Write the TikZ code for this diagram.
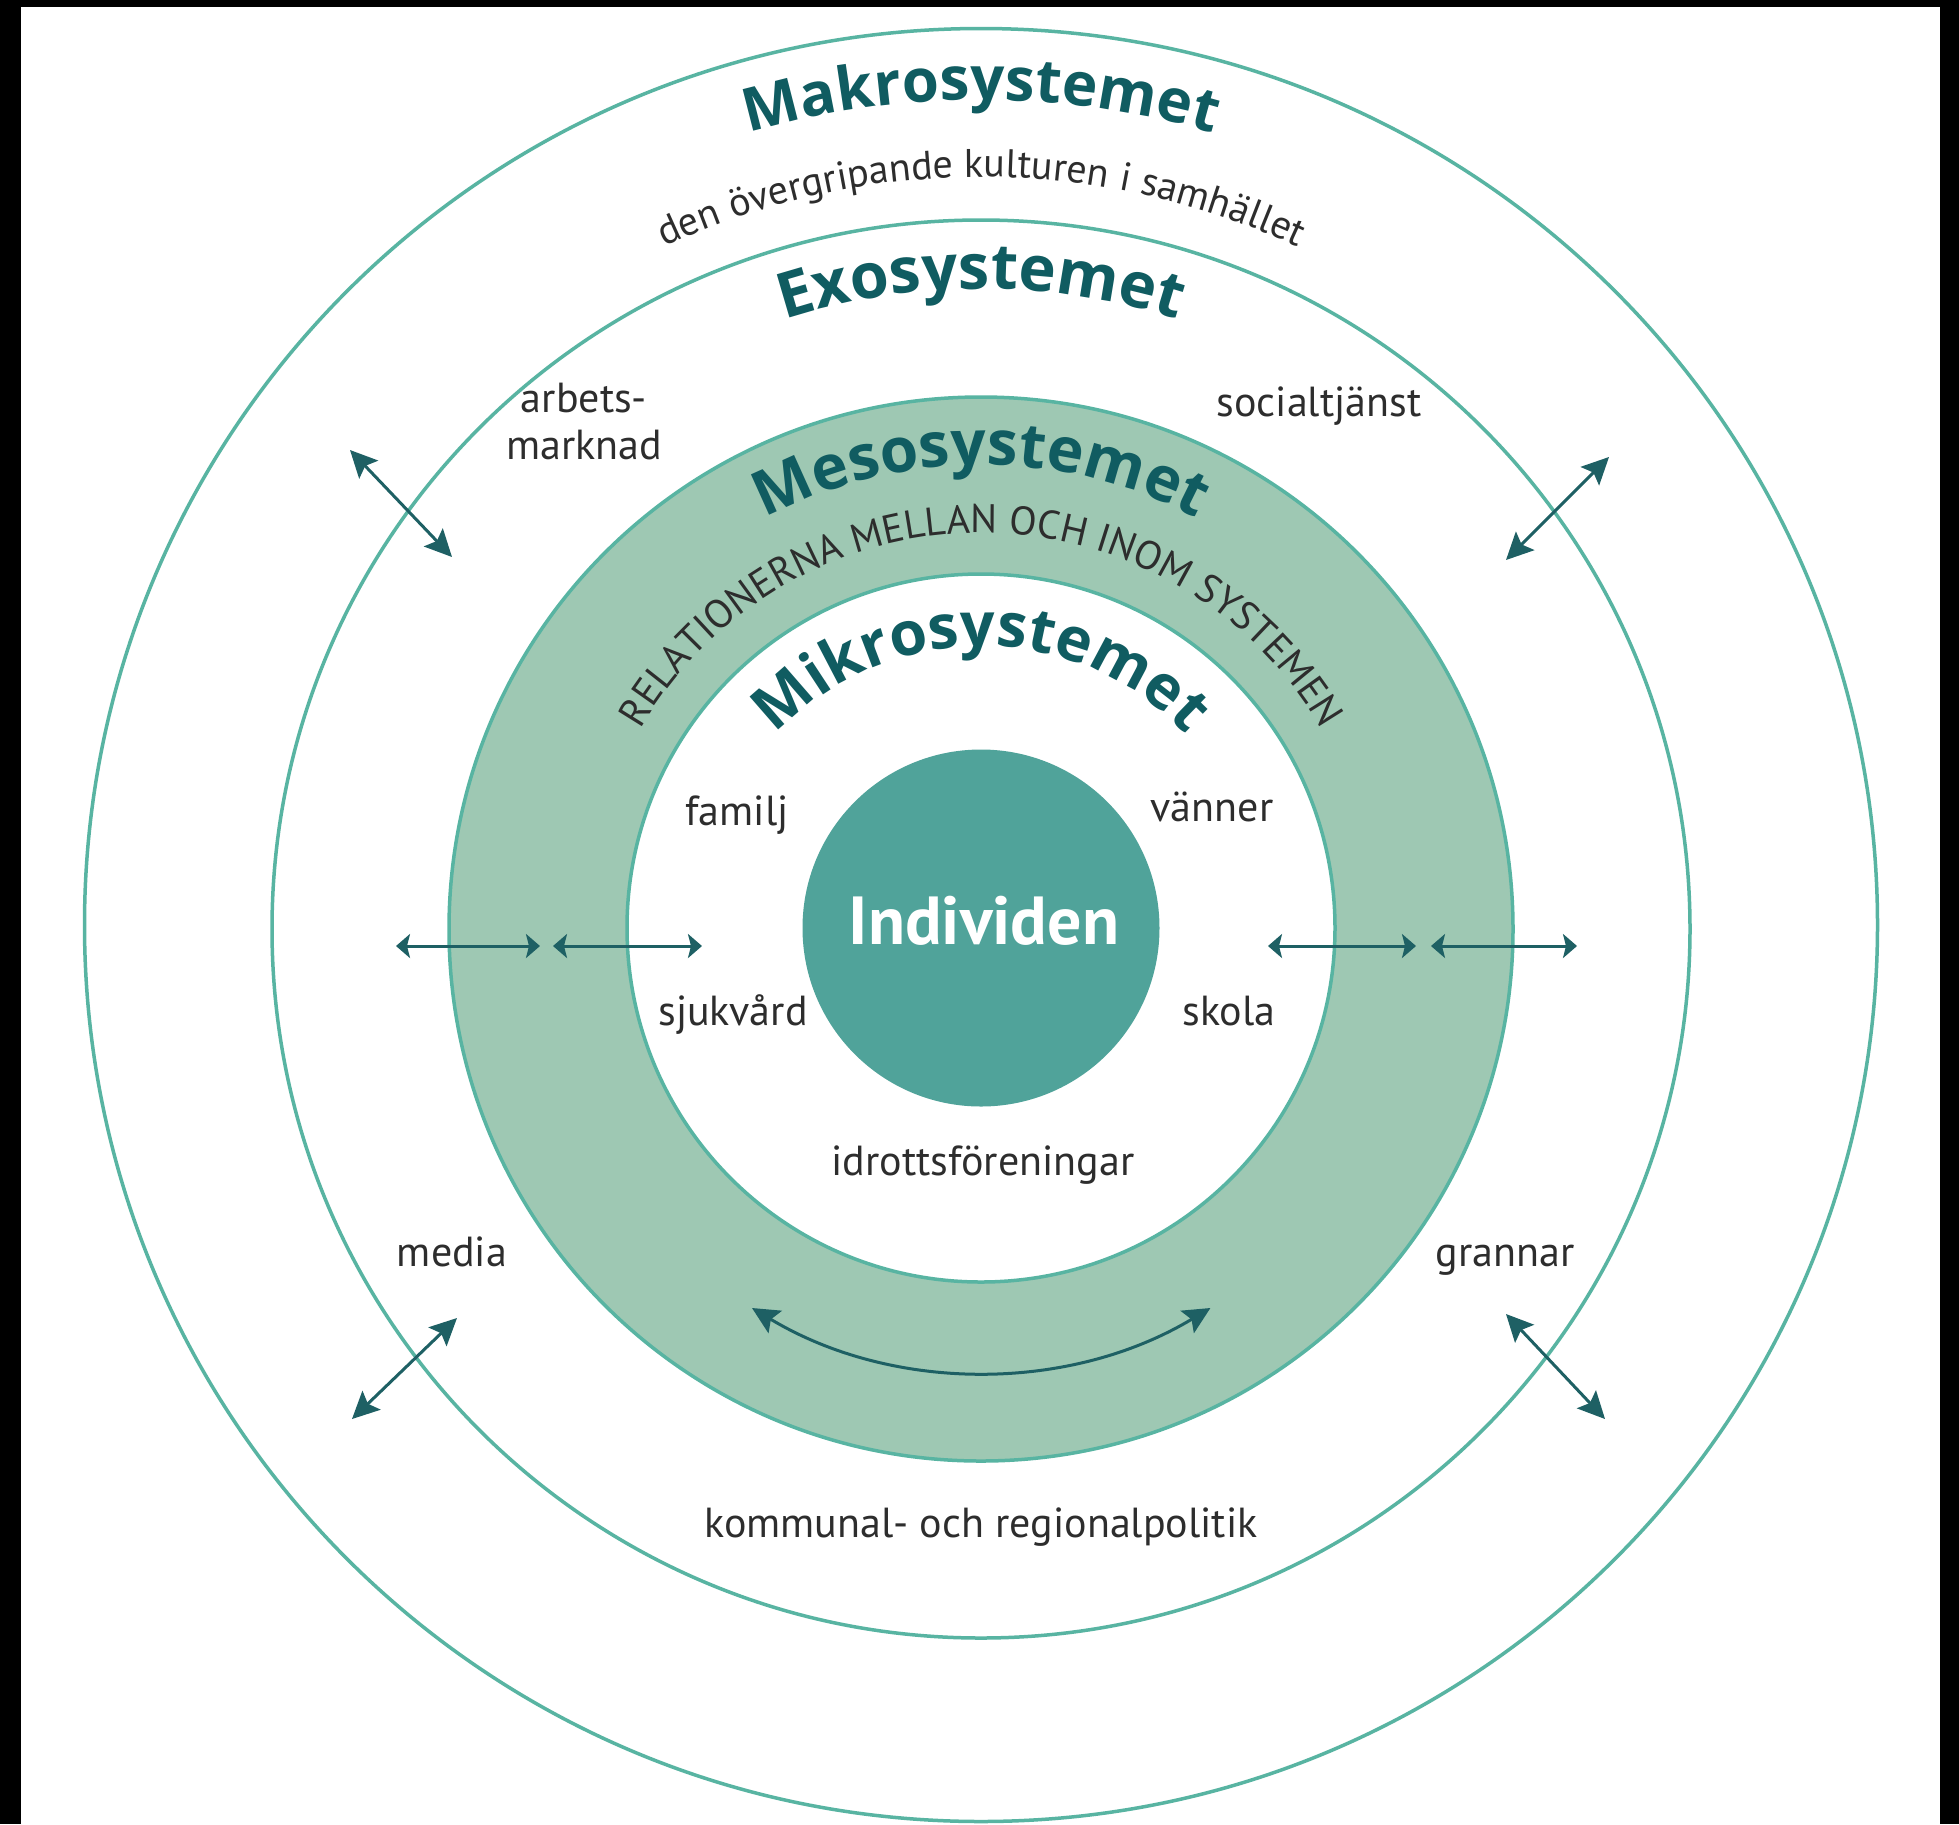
\documentclass[tikz,border=0pt]{standalone}
\usepackage{fontspec}
\setmainfont{PT Sans}
\newfontfamily\titlefont{Open Sans}
\usetikzlibrary{decorations.text,arrows.meta}
\definecolor{lineteal}{RGB}{88,180,162}
\definecolor{mesofill}{RGB}{158,200,179}
\definecolor{indfill}{RGB}{80,163,154}
\definecolor{titlecol}{RGB}{16,92,97}
\definecolor{arrowcol}{RGB}{30,96,100}
\definecolor{textgray}{RGB}{45,45,45}
\begin{document}
\begin{tikzpicture}[x=1pt,y=1pt,
  ring/.style={circle,draw=lineteal,line width=3.5pt,inner sep=0pt,outer sep=0pt},
  lbl/.style={font=\fontsize{42}{47}\selectfont,text=textgray,inner sep=0pt},
  dbl/.style={draw=arrowcol,line width=3pt,{Stealth[length=27pt,width=26pt,inset=5pt]}-{Stealth[length=27pt,width=26pt,inset=5pt]}},
  hdbl/.style={draw=arrowcol,line width=3pt,{Stealth[length=14pt,width=24pt,inset=3pt]}-{Stealth[length=14pt,width=24pt,inset=3pt]}},
  titletext/.style 2 args={decorate,decoration={text along path,text align=center,text color=titlecol,
     text={|\titlefont\bfseries\fontsize{#1}{70}\selectfont|#2}}},
  bodytext/.style={decorate,decoration={text along path,text align=center,text color=textgray,
     text={|\fontsize{40}{46}\selectfont|#1}}}
]
% frame
\fill[black] (0,0) rectangle (1959,-1824);
\fill[white] (21,-7) rectangle (1940,-1824);
\useasboundingbox (0,0) rectangle (1959,-1824);

% circles
\node (makro) [ring,minimum size=1793pt] at (981,-925) {};
\node (exo) [ring,minimum size=1418pt] at (981,-929) {};
\node (meso) [ring,fill=mesofill,minimum size=1064pt] at (981,-929) {};
\node (mikro) [ring,fill=white,minimum size=708pt] at (981,-928) {};
\node (ind) [circle,fill=indfill,minimum size=357pt,inner sep=0pt] at (981,-928) {};
\node (indtxt) [font=\bfseries\fontsize{68}{74}\selectfont,text=white,anchor=base,inner sep=0pt] at (984,-944) {Individen};

% curved titles
\path[titletext={60}{Makrosystemet}] (154,-927) arc[start angle=180,end angle=0,radius=827];
\path[bodytext=den övergripande kulturen i samhället] (231,-927) arc[start angle=180,end angle=0,radius=750];
\path[titletext={63}{Exosystemet}] (343,-927) arc[start angle=180,end angle=0,radius=638];
\path[titletext={62}{Mesosystemet}] (519,-927) arc[start angle=180,end angle=0,radius=462];
\path[decorate,decoration={text along path,text align=center,text color=textgray,
     text={|\fontsize{40}{46}\selectfont|RELATIONERNA MELLAN OCH INOM SYSTEMEN}}]
     (587,-927) arc[start angle=180,end angle=0,radius=394];
\path[titletext={61}{Mikrosystemet}] (700,-927) arc[start angle=180,end angle=0,radius=281];

% labels
\node[lbl,align=center] (arbets) at (584,-422) {arbets-\\marknad};
\node[lbl,anchor=base] (social) at (1319,-416) {socialtjänst};
\node[lbl,anchor=base] (familj) at (737,-825) {familj};
\node[lbl,anchor=base] (vanner) at (1212,-821) {vänner};
\node[lbl,anchor=base] (sjuk) at (733,-1025) {sjukvård};
\node[lbl,anchor=base] (skola) at (1229,-1025) {skola};
\node[lbl,anchor=base] (idrott) at (983,-1175) {idrottsföreningar};
\node[lbl,anchor=base] (media) at (452,-1266) {media};
\node[lbl,anchor=base] (grannar) at (1505,-1266) {grannar};
\node[lbl,anchor=base] (kommun) at (981,-1537) {kommunal- och regionalpolitik};

% arrow end points
\coordinate (ul1) at (350,-450); \coordinate (ul2) at (452,-557);
\coordinate (ur1) at (1506,-560); \coordinate (ur2) at (1609,-457);
\coordinate (ll1) at (352,-1419); \coordinate (ll2) at (457,-1318);
\coordinate (lr1) at (1506,-1314); \coordinate (lr2) at (1605,-1419);
\coordinate (h1a) at (396,-946); \coordinate (h1b) at (540,-946);
\coordinate (h2a) at (553,-946); \coordinate (h2b) at (702,-946);
\coordinate (h3a) at (1268,-946); \coordinate (h3b) at (1416,-946);
\coordinate (h4a) at (1431,-946); \coordinate (h4b) at (1577,-946);
\coordinate (cv1) at (752,-1308);

\draw[dbl] (ul1) -- (ul2);
\draw[dbl] (ur1) -- (ur2);
\draw[dbl] (ll1) -- (ll2);
\draw[dbl] (lr1) -- (lr2);
\draw[hdbl] (h1a) -- (h1b);
\draw[hdbl] (h2a) -- (h2b);
\draw[hdbl] (h3a) -- (h3b);
\draw[hdbl] (h4a) -- (h4b);
\draw[dbl] (cv1) arc[start angle=239,end angle=301,radius=445];
\end{tikzpicture}
\end{document}
